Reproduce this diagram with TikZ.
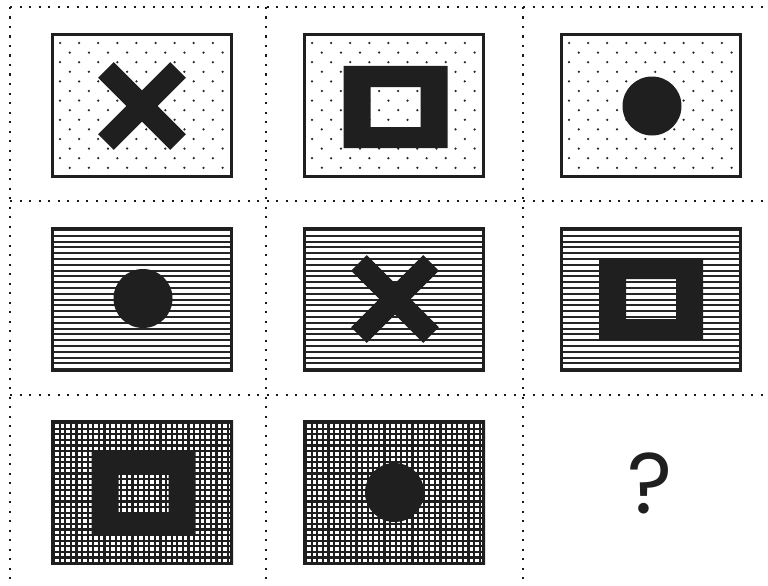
\documentclass[tikz,border=0pt]{standalone}
\usepackage{fontspec}
\newfontfamily\qfont{Poppins}
\newcommand\mydotspat[2]{%
  \begin{scope}
  \clip (#1,#2) rectangle ++(182,145);
  \foreach \r in {0,...,13} {\foreach \c in {0,...,8} {
    \fill[black!85] ({#1+9+\c*19.1+mod(\r,2)*9.8},{#2+10+\r*9.6}) circle (1.25);}}
  \end{scope}}
\newcommand\mylinespat[2]{%
  \begin{scope}
  \clip (#1,#2) rectangle ++(182,145);
  \foreach \k in {0,...,25} {\draw[hline] (#1,{#2+3+\k*5.8}) -- ++(182,0);}
  \end{scope}}
\newcommand\mygridpat[2]{%
  \begin{scope}
  \clip (#1,#2) rectangle ++(182,145);
  \foreach \k in {0,...,33} {\draw[gline] ({#1+3+\k*5.6},#2) -- ++(0,145);}
  \foreach \k in {0,...,26} {\draw[gline] (#1,{#2+3+\k*5.6}) -- ++(182,0);}
  \end{scope}}
\newcommand\mycross[2]{%
  \fill[shapefill,rotate around={45:(#1,#2)}] ({#1-51},{#2-11}) rectangle ({#1+51},{#2+11});
  \fill[shapefill,rotate around={-45:(#1,#2)}] ({#1-51},{#2-11}) rectangle ({#1+51},{#2+11});}
\newcommand\myring[2]{%
  \fill[shapefill,even odd rule] ({#1-52},{#2-41}) rectangle ({#1+52},{#2+41})
     ({#1-25},{#2-20}) rectangle ({#1+25},{#2+20});}
\newcommand\mydisc[2]{\fill[shapefill] (#1,#2) circle (29.5);}
\newcommand\myframe[2]{\draw[frame] ({#1+1.5},{#2+1.5}) rectangle ({#1+180.5},{#2+143.5});}
\begin{document}
\begin{tikzpicture}[x=1pt,y=-1pt,
  divider/.style={draw=black!90, line width=2.3pt, dash pattern=on 2.2pt off 7.3pt},
  frame/.style={draw=black!88, line width=3pt},
  shapefill/.style={fill=black!88},
  hline/.style={draw=black!85, line width=2.1pt},
  gline/.style={draw=black!88, line width=2.2pt}]
\useasboundingbox (0,0) rectangle (768,586);
\fill[white] (0,0) rectangle (768,586);
% dotted grid
\draw[divider] (10,7) -- (768,7);
\draw[divider] (10,201) -- (768,201);
\draw[divider] (10,395) -- (768,395);
\draw[divider] (10,7) -- (10,586);
\draw[divider] (266,7) -- (266,586);
\draw[divider] (523,7) -- (523,586);
% Row 1
\mydotspat{51}{33}   \mycross{142}{106}   \myframe{51}{33}
\mydotspat{303}{33}  \myring{395.5}{107}  \myframe{303}{33}
\mydotspat{560}{33}  \mydisc{652}{106}    \myframe{560}{33}
% Row 2
\mylinespat{51}{227}  \mydisc{143}{298.5} \myframe{51}{227}
\mylinespat{303}{227} \mycross{395}{299}  \myframe{303}{227}
\mylinespat{560}{227} \myring{651}{299}   \myframe{560}{227}
% Row 3
\mygridpat{51}{420}   \myring{143.5}{493}   \myframe{51}{420}
\mygridpat{303}{420}  \mydisc{394.5}{492.5} \myframe{303}{420}
\node[text=black!88, font=\qfont\fontsize{86}{86}\selectfont, inner sep=0pt] (q) at (650,483) {?};
\end{tikzpicture}
\end{document}
